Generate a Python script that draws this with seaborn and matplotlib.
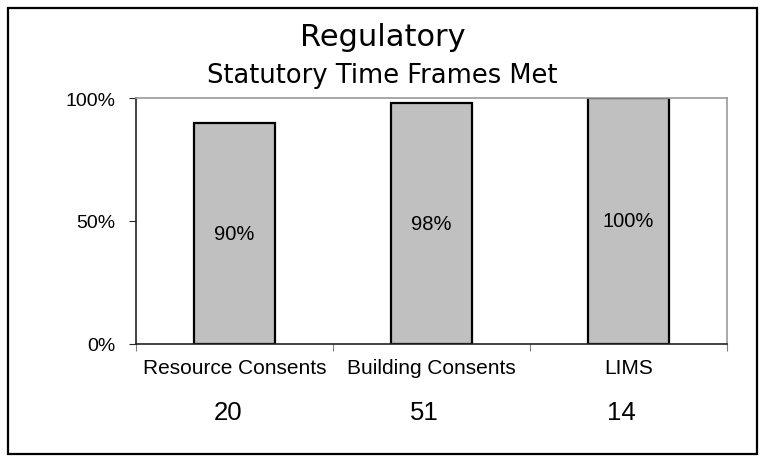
import matplotlib
matplotlib.use('Agg')
import matplotlib.pyplot as plt
import seaborn as sns
from matplotlib.patches import Rectangle
from matplotlib.ticker import FixedLocator, PercentFormatter

categories = ['Resource Consents', 'Building Consents', 'LIMS']
pct_met = [90, 98, 100]
counts = [20, 51, 14]
yticks = [0, 50, 100]

sns.set_style('white')
plt.rcParams['font.family'] = ['Liberation Sans', 'DejaVu Sans']
plt.rcParams['text.color'] = 'black'

fig = plt.figure(figsize=(7.65, 4.64), dpi=100)
ax = fig.add_axes([136 / 765, 1 - 345 / 464, (727 - 136) / 765, (345 - 99) / 464])

sns.barplot(x=categories, y=pct_met, ax=ax, color='#C0C0C0', saturation=1,
            width=0.41, edgecolor='black', linewidth=1.6)

# value labels in the middle of each bar
for i, v in enumerate(pct_met):
    ax.text(i, v / 2, f'{v}%', ha='center', va='center', fontsize=14.5, color='black')

# counts under the category names (sit a little left of the bar centres)
for i, n in enumerate(counts):
    ax.text(i - 0.035, -0.275, str(n), transform=ax.get_xaxis_transform(),
            ha='center', va='center', fontsize=18.5, color='black')

ax.set_ylim(0, 100)
ax.set_xlim(-0.5, 2.5)
ax.set_yticks(yticks)
ax.yaxis.set_major_formatter(PercentFormatter(decimals=0))
ax.tick_params(axis='y', left=True, length=5, width=0.8, labelsize=14, pad=10, labelcolor='black')
ax.tick_params(axis='x', which='major', length=0, labelsize=15, pad=10, labelcolor='black')
ax.xaxis.set_minor_locator(FixedLocator([-0.5, 0.5, 1.5, 2.5]))
ax.tick_params(axis='x', which='minor', bottom=True, length=5, width=0.8, color='gray')
ax.set_xlabel('')
ax.set_ylabel('')

for side in ['left', 'bottom']:
    ax.spines[side].set_color('#222222')
    ax.spines[side].set_linewidth(1.2)
for side in ['top', 'right']:
    ax.spines[side].set_color('#999999')
    ax.spines[side].set_linewidth(1.2)

fig.text(0.5, 1 - 38 / 464, 'Regulatory', ha='center', va='center',
         fontsize=22, family='DejaVu Sans', color='black')
fig.text(0.5, 1 - 76 / 464, 'Statutory Time Frames Met', ha='center', va='center',
         fontsize=18.5, family='DejaVu Sans', color='black')

fig.patches.append(Rectangle((8 / 765, 9 / 464), 749 / 765, 446 / 464,
                             transform=fig.transFigure, fill=False,
                             edgecolor='black', linewidth=1.6))

fig.savefig('out.png', dpi=100)
